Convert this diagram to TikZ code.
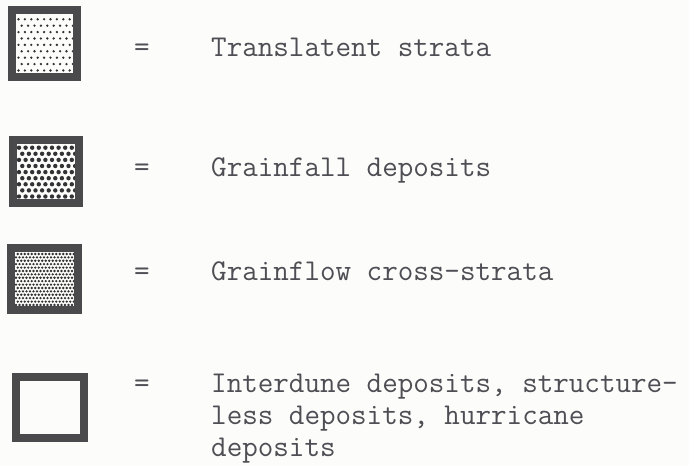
\documentclass[tikz,border=0pt]{standalone}
\usepackage{fontspec}
\begin{document}
\begin{tikzpicture}[x=1pt,y=1pt,
  legbox/.style={draw=boxc, line width=8pt, inner sep=0pt},
  lbl/.style={text=txtc, inner sep=0pt, font=\ttfamily\fontsize{30.2}{32}\selectfont},
  dotc/.style={fill=dotcol}]
\definecolor{boxc}{HTML}{4A4A4C}
\definecolor{txtc}{HTML}{4E4E54}
\definecolor{dotcol}{HTML}{333335}
\definecolor{bgc}{HTML}{FCFCFA}
\useasboundingbox (0,0) rectangle (689,466);
\fill[bgc] (0,0) rectangle (689,466);
% patterns
\begin{scope}
\clip (16,393) rectangle (73,452);
\foreach \i in {0,...,9} \foreach \j in {0,...,9}
  \fill[dotc] ({18.5+\j*6.4+mod(\i,2)*3.2},{395.5+\i*6.4}) circle (1.3);
\end{scope}
\begin{scope}
\clip (17,267) rectangle (75,322);
\foreach \i in {0,...,9} \foreach \j in {0,...,9}
  \fill[dotc] ({19+\j*6.6+mod(\i,2)*3.3},{269.5+\i*6.1}) circle (2.2);
\end{scope}
\begin{scope}
\clip (15,160) rectangle (74,214);
\foreach \i in {0,...,16} \foreach \j in {0,...,17}
  \fill[dotc] ({16+\j*3.5+mod(\i,2)*1.75},{161+\i*3.4}) circle (1.3);
\end{scope}
% boxes
\node[legbox, minimum width=65, minimum height=67] (b1) at (44.5,422.5) {};
\node[legbox, minimum width=66, minimum height=63] (b2) at (46,294.5) {};
\node[legbox, minimum width=67, minimum height=62] (b3) at (44.5,187) {};
\node[legbox, minimum width=68, minimum height=61] (b4) at (50,58.5) {};
% labels
\node[lbl, anchor=base west] (e1) at (134,409) {=};
\node[lbl, anchor=base west] (t1) at (211,409) {Translatent strata};
\node[lbl, anchor=base west] (e2) at (134,289) {=};
\node[lbl, anchor=base west] (t2) at (211,289) {Grainfall deposits};
\node[lbl, anchor=base west] (e3) at (134,185) {=};
\node[lbl, anchor=base west] (t3) at (211,185) {Grainflow cross-strata};
\node[lbl, anchor=base west] (e4) at (134,73) {=};
\node[lbl, anchor=base west, align=left] (t4) at (211,9) {Interdune deposits, structure-\\less deposits, hurricane\\deposits};
\end{tikzpicture}
\end{document}
